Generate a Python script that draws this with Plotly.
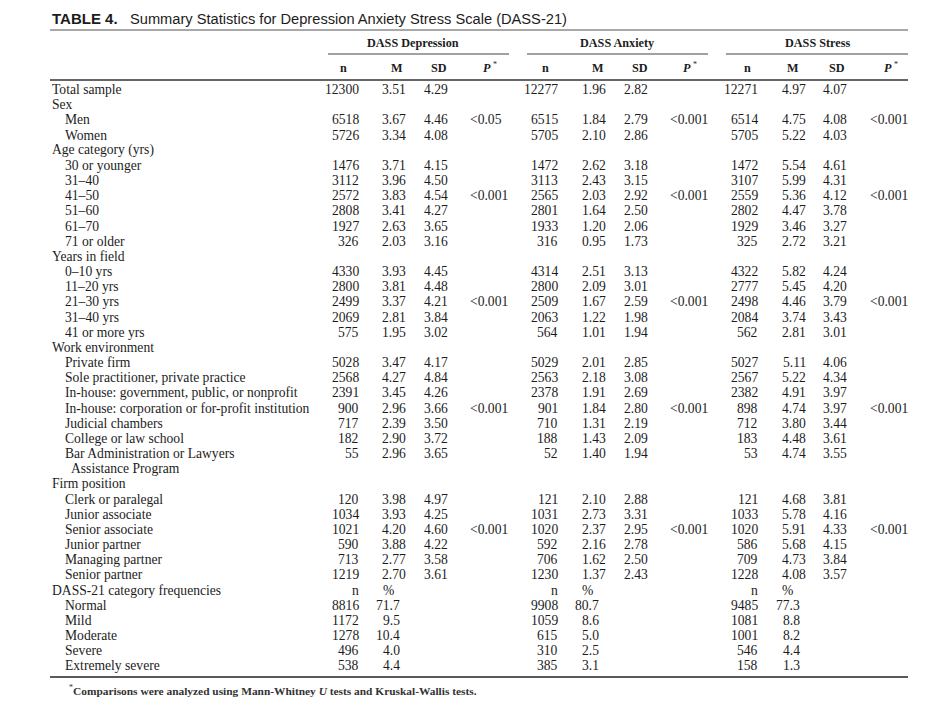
import plotly.graph_objects as go

# ---------------- data ----------------
title_bold = "TABLE 4."
title_text = "Summary Statistics for Depression Anxiety Stress Scale (DASS-21)"
scales = ["DASS Depression", "DASS Anxiety", "DASS Stress"]
footnote = "Comparisons were analyzed using Mann-Whitney <i>U</i> tests and Kruskal-Wallis tests."

total_label = "Total sample"
sections = ["Sex", "Age category (yrs)", "Years in field", "Work environment", "Firm position"]
section_items = [
    ["Men", "Women"],
    ["30 or younger", "31–40", "41–50", "51–60", "61–70", "71 or older"],
    ["0–10 yrs", "11–20 yrs", "21–30 yrs", "31–40 yrs", "41 or more yrs"],
    ["Private firm", "Sole practitioner, private practice",
     "In-house: government, public, or nonprofit",
     "In-house: corporation or for-profit institution",
     "Judicial chambers", "College or law school",
     "Bar Administration or Lawyers|Assistance Program"],
    ["Clerk or paralegal", "Junior associate", "Senior associate",
     "Junior partner", "Managing partner", "Senior partner"],
]
freq_section = "DASS-21 category frequencies"
freq_items = ["Normal", "Mild", "Moderate", "Severe", "Extremely severe"]

# values in row order: Total sample, then each item of each section
dep_n = [12300, 6518, 5726, 1476, 3112, 2572, 2808, 1927, 326,
         4330, 2800, 2499, 2069, 575,
         5028, 2568, 2391, 900, 717, 182, 55,
         120, 1034, 1021, 590, 713, 1219]
dep_m = ["3.51", "3.67", "3.34", "3.71", "3.96", "3.83", "3.41", "2.63", "2.03",
         "3.93", "3.81", "3.37", "2.81", "1.95",
         "3.47", "4.27", "3.45", "2.96", "2.39", "2.90", "2.96",
         "3.98", "3.93", "4.20", "3.88", "2.77", "2.70"]
dep_sd = ["4.29", "4.46", "4.08", "4.15", "4.50", "4.54", "4.27", "3.65", "3.16",
          "4.45", "4.48", "4.21", "3.84", "3.02",
          "4.17", "4.84", "4.26", "3.66", "3.50", "3.72", "3.65",
          "4.97", "4.25", "4.60", "4.22", "3.58", "3.61"]
anx_n = [12277, 6515, 5705, 1472, 3113, 2565, 2801, 1933, 316,
         4314, 2800, 2509, 2063, 564,
         5029, 2563, 2378, 901, 710, 188, 52,
         121, 1031, 1020, 592, 706, 1230]
anx_m = ["1.96", "1.84", "2.10", "2.62", "2.43", "2.03", "1.64", "1.20", "0.95",
         "2.51", "2.09", "1.67", "1.22", "1.01",
         "2.01", "2.18", "1.91", "1.84", "1.31", "1.43", "1.40",
         "2.10", "2.73", "2.37", "2.16", "1.62", "1.37"]
anx_sd = ["2.82", "2.79", "2.86", "3.18", "3.15", "2.92", "2.50", "2.06", "1.73",
          "3.13", "3.01", "2.59", "1.98", "1.94",
          "2.85", "3.08", "2.69", "2.80", "2.19", "2.09", "1.94",
          "2.88", "3.31", "2.95", "2.78", "2.50", "2.43"]
str_n = [12271, 6514, 5705, 1472, 3107, 2559, 2802, 1929, 325,
         4322, 2777, 2498, 2084, 562,
         5027, 2567, 2382, 898, 712, 183, 53,
         121, 1033, 1020, 586, 709, 1228]
str_m = ["4.97", "4.75", "5.22", "5.54", "5.99", "5.36", "4.47", "3.46", "2.72",
         "5.82", "5.45", "4.46", "3.74", "2.81",
         "5.11", "5.22", "4.91", "4.74", "3.80", "4.48", "4.74",
         "4.68", "5.78", "5.91", "5.68", "4.73", "4.08"]
str_sd = ["4.07", "4.08", "4.03", "4.61", "4.31", "4.12", "3.78", "3.27", "3.21",
          "4.24", "4.20", "3.79", "3.43", "3.01",
          "4.06", "4.34", "3.97", "3.97", "3.44", "3.61", "3.55",
          "3.81", "4.16", "4.33", "4.15", "3.84", "3.57"]

# P values per section (Sex, Age, Years, Work, Firm)
dep_p = ["<0.05", "<0.001", "<0.001", "<0.001", "<0.001"]
anx_p = ["<0.001", "<0.001", "<0.001", "<0.001", "<0.001"]
str_p = ["<0.001", "<0.001", "<0.001", "<0.001", "<0.001"]

# category frequencies (n, %)
dep_freq_n = [8816, 1172, 1278, 496, 538]
dep_freq_pct = ["71.7", "9.5", "10.4", "4.0", "4.4"]
anx_freq_n = [9908, 1059, 615, 310, 385]
anx_freq_pct = ["80.7", "8.6", "5.0", "2.5", "3.1"]
str_freq_n = [9485, 1081, 1001, 546, 158]
str_freq_pct = ["77.3", "8.8", "8.2", "4.4", "1.3"]

# ---------------- layout constants ----------------
W, H = 952, 710
PAGE_MARGIN = 8          # default body margin of the html page
FIG_W, FIG_H = W - 2 * PAGE_MARGIN, H - 2 * PAGE_MARGIN
Y0, DY = 89.5, 15.17
X_LEFT, X_RIGHT = 50, 908
X_HEAD, X_ITEM, X_CONT = 50, 63, 69
SERIF = "Liberation Serif"
SANS = "Liberation Sans"
INK = "#1c1c1c"
BODY = 13.6
HDR = 12.2

col_n = [361, 560, 760]
col_m = [408, 608, 808]
col_sd = [450, 650, 849]
col_p = [468, 668, 868]
col_pct = [402, 601, 802]
col_pct_hdr = [381, 580, 780]
hdr_center = [413, 617, 817]
hdr_line = [(328, 509), (527, 708), (726, 908)]
sub_n = [343, 545, 747]
sub_m = [397, 598, 793]
sub_sd = [439, 640, 837]
sub_p = [487, 687, 888]

series_n = [dep_n, anx_n, str_n]
series_m = [dep_m, anx_m, str_m]
series_sd = [dep_sd, anx_sd, str_sd]
series_p = [dep_p, anx_p, str_p]
series_fn = [dep_freq_n, anx_freq_n, str_freq_n]
series_fp = [dep_freq_pct, anx_freq_pct, str_freq_pct]

# ---------------- build rows ----------------
rows = []  # (kind, label, data_index)
rows.append(("head", total_label, 0))
p_rows = []  # row index where each section's P value sits
di = 1
for sec, items in zip(sections, section_items):
    rows.append(("head", sec, None))
    mid = (len(items) - 1) // 2
    for k, item in enumerate(items):
        parts = item.split("|")
        if k == mid:
            p_rows.append(len(rows))
        rows.append(("item", parts[0], di))
        for cont in parts[1:]:
            rows.append(("cont", cont, None))
        di += 1
rows.append(("freqhead", freq_section, None))
for fi, item in enumerate(freq_items):
    rows.append(("freq", item, fi))

annotations = []


def txt(x, y, s, anchor="left", size=BODY, family=SERIF, color=INK):
    annotations.append(dict(x=x, y=y, xref="x", yref="y", text=s, showarrow=False,
                            xanchor=anchor, yanchor="middle",
                            font=dict(family=family, size=size, color=color)))


# title
txt(X_LEFT, 18.5, "<b>" + title_bold + "</b>", family=SANS, size=15)
txt(128, 18.5, title_text, family=SANS, size=14.65)

# group headers and sub headers
for g in range(3):
    txt(hdr_center[g], 43, "<b>" + scales[g] + "</b>", anchor="center", size=HDR)
    txt(sub_n[g], 67.5, "<b>n</b>", anchor="center", size=HDR)
    txt(sub_m[g], 67.5, "<b>M</b>", anchor="center", size=HDR)
    txt(sub_sd[g], 67.5, "<b>SD</b>", anchor="center", size=HDR)
    txt(sub_p[g], 67.5, "<b><i>P</i></b>", anchor="center", size=HDR)
    txt(sub_p[g] + 4, 64, "*", anchor="left", size=8)

# body rows
for i, (kind, label, idx) in enumerate(rows):
    y = Y0 + i * DY
    x = {"head": X_HEAD, "freqhead": X_HEAD, "item": X_ITEM, "freq": X_ITEM, "cont": X_CONT}[kind]
    txt(x, y, label)
    for g in range(3):
        if kind in ("head", "item") and idx is not None:
            txt(col_n[g], y, str(series_n[g][idx]), anchor="right")
            txt(col_m[g], y, series_m[g][idx], anchor="right")
            txt(col_sd[g], y, series_sd[g][idx], anchor="right")
        elif kind == "freqhead":
            txt(col_n[g], y, "n", anchor="right")
            txt(col_pct_hdr[g], y, "%", anchor="left")
        elif kind == "freq":
            txt(col_n[g], y, str(series_fn[g][idx]), anchor="right")
            txt(col_pct[g], y, series_fp[g][idx], anchor="right")

for s, r in enumerate(p_rows):
    y = Y0 + r * DY
    for g in range(3):
        txt(col_p[g], y, series_p[g][s], anchor="left")

# footnote
txt(67, 687.5, "*", size=8, color="#333")
txt(70.5, 690.5, "<b>" + footnote + "</b>", size=11.4, color="#333")

# rules
shapes = []


def hline(x0, x1, y, w, color=INK):
    shapes.append(dict(type="line", xref="x", yref="y", x0=x0, x1=x1, y0=y, y1=y,
                       line=dict(color=color, width=w)))


hline(X_LEFT, X_RIGHT, 4.5, 2.4)
hline(X_LEFT, X_RIGHT, 30, 1.1, "#555")
for a, b in hdr_line:
    hline(a, b, 54, 1.1, "#444")
hline(X_LEFT, X_RIGHT, 80, 1.4, "#333")
hline(X_LEFT, X_RIGHT, 677, 1.4, "#222")

fig = go.Figure()
fig.add_trace(go.Scatter(x=[PAGE_MARGIN, W - PAGE_MARGIN], y=[PAGE_MARGIN, H - PAGE_MARGIN],
                         mode="markers", marker=dict(opacity=0), hoverinfo="skip",
                         showlegend=False))
fig.update_layout(
    width=FIG_W, height=FIG_H,
    margin=dict(l=0, r=0, t=0, b=0),
    paper_bgcolor="white", plot_bgcolor="white",
    xaxis=dict(range=[PAGE_MARGIN, PAGE_MARGIN + FIG_W], visible=False, fixedrange=True),
    yaxis=dict(range=[PAGE_MARGIN + FIG_H, PAGE_MARGIN], visible=False, fixedrange=True),
    annotations=annotations, shapes=shapes, showlegend=False,
)
fig.write_html("out.html")
